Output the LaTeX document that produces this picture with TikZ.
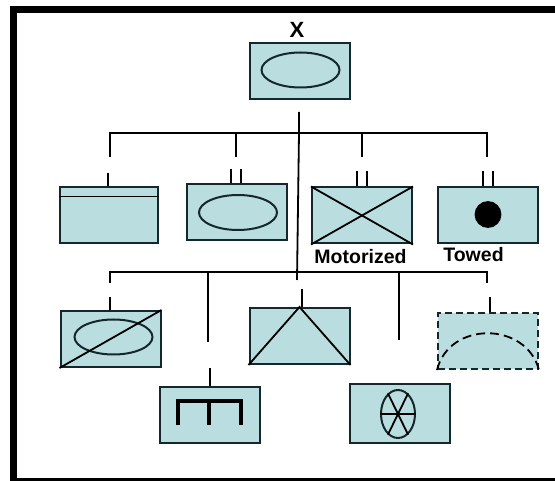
\documentclass[tikz,border=0pt]{standalone}
\usepackage{fontspec}
\setmainfont{Liberation Sans}
\usetikzlibrary{shapes.geometric}
\definecolor{unitfill}{HTML}{BADDE0}
\definecolor{unitline}{HTML}{14282C}

\begin{document}
\begin{tikzpicture}[
  x=1pt,y=-1pt,
  line width=1.8pt,
  unitbox/.style={draw=unitline,fill=unitfill,line width=2pt,inner sep=0pt,minimum width=100pt,minimum height=56pt},
  dashbox/.style={unitbox,dash pattern=on 7pt off 4pt},
  oval/.style={draw=unitline,ellipse,line width=2pt,inner sep=0pt,minimum width=78pt,minimum height=35pt},
  caption/.style={font=\bfseries\fontsize{19.5}{20}\selectfont,inner sep=0pt},
  ]
  \useasboundingbox (0,0) rectangle (555,481);
  \draw[line width=7pt] (555,10) -- (13.5,10) -- (13.5,481) -- (555,481);

  % top unit
  \node[unitbox] (top) at (299.5,71) {};
  \node[oval] (topoval) at (300.5,70) {};
  \node[caption,font=\bfseries\fontsize{22}{22}\selectfont] (xlabel) at (297,30) {X};

  % first row
  \node[unitbox,minimum width=98pt] (line) at (109,215.5) {};
  \node[unitbox] (wheeled) at (236.5,212.5) {};
  \node[oval] (wheeloval) at (238,212.5) {};
  \node[unitbox] (motor) at (362,215.5) {};
  \node[unitbox] (towed) at (488,215.5) {};
  \node[draw,circle,fill=black,inner sep=0pt,minimum size=25pt] (dot) at (488,214.5) {};
  \node[caption] (motorlabel) at (360.5,257) {Motorized};
  \node[caption] (towedlabel) at (473.5,255) {Towed};
  \draw ([yshift=-10pt]line.north west) -- ([yshift=-10pt]line.north east);
  \draw (motor.north west) -- (motor.south east);
  \draw (motor.south west) -- (motor.north east);

  % second row
  \node[unitbox] (slash) at (110.5,339) {};
  \node[oval] (slashoval) at (113.5,337) {};
  \node[unitbox] (peak) at (299.5,336) {};
  \node[dashbox] (dome) at (488,341) {};
  \draw (slash.south west) -- (slash.north east);
  \draw (peak.south west) -- (peak.north) -- (peak.south east);
  \draw[dash pattern=on 9pt off 5pt] (dome.south west) .. controls +(12,-49) and +(-13,-49) .. (dome.south east);

  % third row
  \node[unitbox] (comb) at (209.5,415) {};
  \node[unitbox,minimum height=59pt] (spoke) at (399.5,413.5) {};
  \node[draw=unitline,ellipse,line width=2pt,inner sep=0pt,minimum width=34pt,minimum height=48pt] (spokeoval) at (398,414) {};
  \draw[line width=4pt] (178,425) |- (241,401) -- (241,425);
  \draw[line width=4pt] (209,401) -- (209,425);
  \draw (spokeoval.west) -- (spokeoval.east);
  \draw (spokeoval.116) -- (spokeoval.296);
  \draw (spokeoval.64) -- (spokeoval.244);

  % free ends of the lines
  \coordinate (trunktop) at (299,112);
  \coordinate (trunkend) at (297,280);
  \coordinate (busa) at (299,133);
  \coordinate (busb) at (297,272);
  \coordinate (dropa) at (110,157);
  \coordinate (dropb) at (236,157);
  \coordinate (dropc) at (362,157);
  \coordinate (dropd) at (487,157);
  \coordinate (drope) at (110,283);
  \coordinate (dropf) at (208,342);
  \coordinate (dropg) at (399,340);
  \coordinate (droph) at (487,283);

  \draw (trunktop) -- (busa) -- (trunkend);
  \draw (dropa) |- (busa) -| (dropd);
  \draw (dropb) -- (dropb |- busa);
  \draw (dropc) -- (dropc |- busa);
  \draw (drope) |- (busb) -| (droph);
  \draw (dropf) -- (dropf |- busb);
  \draw (dropg) -- (dropg |- busb);

  % stubs above the boxes
  \coordinate (stuba) at (108,173);
  \coordinate (stubb) at (231,169);
  \coordinate (stubc) at (241,169);
  \coordinate (stubd) at (357,171);
  \coordinate (stube) at (367,171);
  \coordinate (stubf) at (483,171);
  \coordinate (stubg) at (493,171);
  \coordinate (stubh) at (110,297);
  \coordinate (stubi) at (302,289);
  \coordinate (stubj) at (490,297);
  \coordinate (stubk) at (210,368);

  \draw (stuba) -- (stuba |- line.north);
  \draw (stubb) -- (stubb |- wheeled.north);
  \draw (stubc) -- (stubc |- wheeled.north);
  \draw (stubd) -- (stubd |- motor.north);
  \draw (stube) -- (stube |- motor.north);
  \draw (stubf) -- (stubf |- towed.north);
  \draw (stubg) -- (stubg |- towed.north);
  \draw (stubh) -- (stubh |- slash.north);
  \draw (stubi) -- (stubi |- peak.north);
  \draw (stubj) -- (stubj |- dome.north);
  \draw (stubk) -- (stubk |- comb.north);
\end{tikzpicture}
\end{document}
